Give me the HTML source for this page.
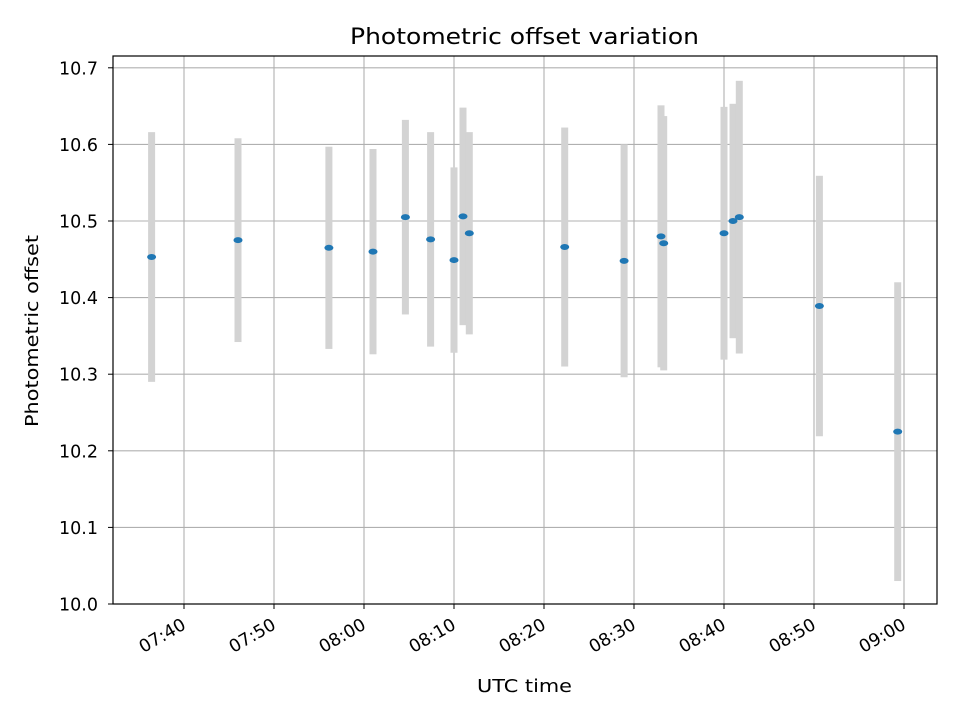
<!DOCTYPE html>
<html><head><meta charset="utf-8"><style>
body{margin:0;background:#fff;}
svg text{font-family:"DejaVu Sans","Liberation Sans",sans-serif;}
</style></head><body>
<svg id="c" width="960" height="720" xmlns="http://www.w3.org/2000/svg">
<rect width="960" height="720" fill="#fff"/>
<g id="grid"></g>
<g id="bars"></g>
<g id="pts"></g>
<rect x="113" y="56" width="824" height="548" fill="none" stroke="#000" stroke-width="1.2"/>
<g id="axes"></g>
<text x="350" y="44" textLength="349" lengthAdjust="spacingAndGlyphs" style="font-size:22px">Photometric offset variation</text>
<text x="477" y="692" textLength="95" lengthAdjust="spacingAndGlyphs" style="font-size:18px">UTC time</text>
<text transform="translate(38,427) rotate(-90)" textLength="192" lengthAdjust="spacingAndGlyphs" style="font-size:18px">Photometric offset</text>
</svg>
<script>
// minutes after 07:00
const times=[36.4,46.0,56.1,61.0,64.6,67.4,70.0,71.0,71.7,82.3,88.9,93.0,93.3,100.0,101.0,101.7,110.6,119.3];
const values=[10.453,10.475,10.465,10.460,10.505,10.476,10.449,10.506,10.484,10.466,10.448,10.480,10.471,10.484,10.500,10.505,10.389,10.225];
const errors=[0.163,0.133,0.132,0.134,0.127,0.140,0.121,0.142,0.132,0.156,0.152,0.171,0.166,0.165,0.153,0.178,0.170,0.195];
const xTicks=[40,50,60,70,80,90,100,110,120];
const xTickLabels=["07:40","07:50","08:00","08:10","08:20","08:30","08:40","08:50","09:00"];
const yTicks=[10.0,10.1,10.2,10.3,10.4,10.5,10.6,10.7];
const NS="http://www.w3.org/2000/svg";
function X(t){return 184+(t-40)*9.0;}
function Y(v){return 604-(v-10.0)*766;}
function mk(tag,attrs,parent){const e=document.createElementNS(NS,tag);for(const k in attrs)e.setAttribute(k,attrs[k]);document.getElementById(parent).appendChild(e);return e;}
xTicks.forEach((t,i)=>{
  const g=mk('line',{x1:X(t),x2:X(t),y1:56,y2:604,stroke:'#b0b0b0','stroke-width':1.1},'grid');
  
  
  const tk=mk('line',{x1:X(t),x2:X(t),y1:604,y2:609,stroke:'#000'},'axes');
  
  
  const lb=mk('text',{transform:`translate(${X(t)+3},628) rotate(-30)`,'text-anchor':'end',style:'font-size:17.5px'},'axes');
  lb.textContent=xTickLabels[i];
  
  
});
yTicks.forEach(v=>{
  const g=mk('line',{x1:113,x2:937,y1:Y(v),y2:Y(v),stroke:'#b0b0b0','stroke-width':1.1},'grid');
  
  
  const tk=mk('line',{x1:108,x2:113,y1:Y(v),y2:Y(v),stroke:'#000'},'axes');
  
  
  const lb=mk('text',{x:98,y:Y(v)+6.5,'text-anchor':'end',style:'font-size:17.5px'},'axes');
  lb.textContent=v.toFixed(1);
  
  
});
times.forEach((t,i)=>{
  const top=Y(values[i]+errors[i]),bot=Y(values[i]-errors[i]);
  const r=mk('rect',{x:X(t)-3.5,y:top,width:7,height:bot-top,fill:'#d3d3d3'},'bars');
  
  
  const p=mk('ellipse',{cx:X(t),cy:Y(values[i]),rx:4.5,ry:3,fill:'#1f77b4'},'pts');
  
  
});
</script>
</body></html>
